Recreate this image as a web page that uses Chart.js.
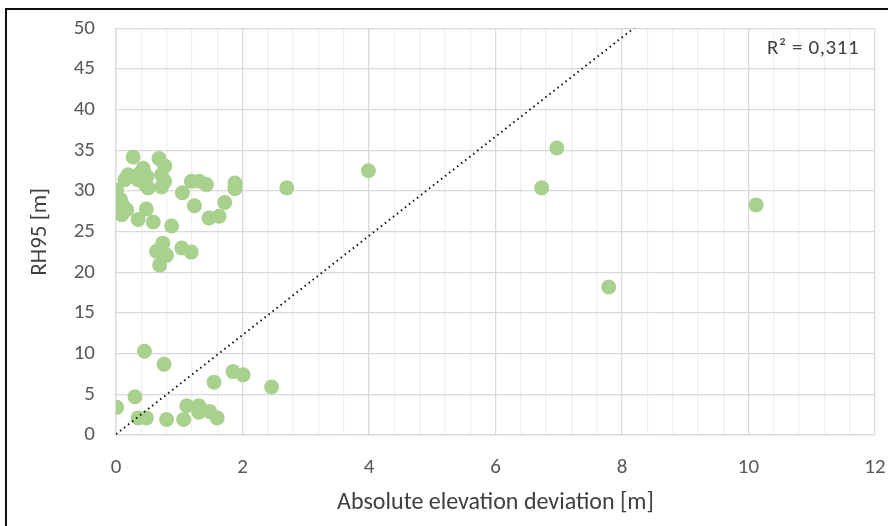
<!DOCTYPE html>
<html>
<head>
<meta charset="utf-8">
<script src="https://cdn.jsdelivr.net/npm/chart.js@4.4.0/dist/chart.umd.min.js"></script>
<style>
  html, body { margin: 0; padding: 0; background: #fff; }
  #wrap { position: relative; width: 888px; height: 526px; overflow: hidden; }
  #frame { position: absolute; left: 5px; top: 8px; width: 900px; height: 540px;
           border-left: 2px solid #111; border-top: 2px solid #111; }
  canvas { position: absolute; left: 0; top: 0; }
  #r2 { position: absolute; left: 767px; top: 34px; font: 21px Carlito, 'Open Sans', sans-serif; color: #404040; letter-spacing: 0.6px; }
</style>
</head>
<body>
<div id="wrap">
  <canvas id="c" width="888" height="526"></canvas>
  <div id="frame"></div>
  <div id="r2">R² = 0,311</div>
</div>
<script>
// Absolute elevation deviation [m]
const deviation = [
  0.01, 0.07, 0.11, 0.17, 0.09, 0.14, 0.19, 0.27, 0.35, 0.38, 0.43, 0.46, 0.49, 0.51,
  0.35, 0.48, 0.59, 0.68, 0.77, 0.72, 0.77, 0.72, 0.88, 0.74, 0.64, 0.80, 0.69, 1.04,
  1.19, 1.05, 1.19, 1.32, 1.43, 1.24, 1.47, 1.63, 1.72, 1.88, 1.88, 2.70, 3.99, 6.97,
  6.73, 10.12, 7.79,
  0.45, 0.76, 0.01, 0.30, 0.35, 0.48, 0.80, 1.07, 1.12, 1.31, 1.31, 1.48, 1.60, 1.55,
  1.85, 2.01, 2.46
];
// RH95 [m]
const rh95 = [
  30.1, 29.0, 28.2, 27.7, 27.1, 31.4, 32.0, 34.2, 31.4, 32.2, 32.8, 30.8, 31.8, 30.4,
  26.5, 27.8, 26.2, 34.0, 33.1, 32.0, 31.2, 30.5, 25.7, 23.6, 22.6, 22.1, 20.9, 23.0,
  22.5, 29.8, 31.2, 31.2, 30.8, 28.2, 26.7, 26.9, 28.6, 31.0, 30.3, 30.4, 32.5, 35.3,
  30.4, 28.3, 18.2,
  10.3, 8.7, 3.4, 4.7, 2.1, 2.1, 1.9, 1.9, 3.6, 3.6, 2.8, 2.9, 2.1, 6.5,
  7.8, 7.4, 5.9
];
// Linear trendline (y = slope * x + intercept)
const trendSlope = 6.1;
const trendIntercept = 0.1;
const trendX = [0, 10.12];

const xTickLabels = ['0', '2', '4', '6', '8', '10', '12'];
const yTickLabels = ['0', '5', '10', '15', '20', '25', '30', '35', '40', '45', '50'];

const FONT = "Carlito, 'Open Sans', sans-serif";

const points = deviation.map((x, i) => ({ x: x, y: rh95[i] }));
const trend = trendX.map(x => ({ x: x, y: trendSlope * x + trendIntercept }));

function isMajorX(v) { return Math.abs(v / 2 - Math.round(v / 2)) < 1e-6; }

new Chart(document.getElementById('c'), {
  type: 'scatter',
  data: {
    datasets: [
      {
        data: points,
        backgroundColor: '#a9d18e',
        borderColor: '#a9d18e',
        pointRadius: 7.5,
        pointHoverRadius: 7.5,
        borderWidth: 0,
        order: 2
      },
      {
        type: 'line',
        data: trend,
        borderColor: '#111',
        borderWidth: 2,
        borderDash: [1.5, 3.6],
        pointRadius: 0,
        fill: false,
        order: 1
      }
    ]
  },
  options: {
    responsive: false,
    animation: false,
    layout: { padding: { left: 0, right: 13, top: 28.5, bottom: 0 } },
    plugins: { legend: { display: false }, tooltip: { enabled: false } },
    scales: {
      x: {
        type: 'linear',
        min: 0, max: 12,
        afterBuildTicks: s => {
          const t = [];
          for (let i = 0; i <= 30; i++) t.push({ value: Math.round(i * 0.4 * 10) / 10 });
          s.ticks = t;
        },
        afterFit: s => { s.height = 91; s.paddingLeft = 0; s.paddingRight = 0; },
        grid: {
          color: ctx => isMajorX(ctx.tick.value) ? '#d9d9d9' : '#f0f0f0',
          lineWidth: 1.3,
          drawTicks: false
        },
        border: { display: true, color: '#d9d9d9', width: 1.3 },
        ticks: {
          autoSkip: false,
          maxRotation: 0,
          padding: 20,
          color: '#595959',
          font: { family: FONT, size: 21 },
          callback: v => isMajorX(v) ? xTickLabels[Math.round(v / 2)] : ''
        },
        title: {
          display: true,
          text: 'Absolute elevation deviation [m]',
          color: '#404040',
          font: { family: FONT, size: 24 },
          padding: { top: 0, bottom: 9 }
        }
      },
      y: {
        type: 'linear',
        min: 0, max: 50,
        afterFit: s => { s.width = 116; s.paddingTop = 0; s.paddingBottom = 0; },
        grid: { color: '#d9d9d9', lineWidth: 1.3, drawTicks: false },
        border: { display: true, color: '#d9d9d9', width: 1.3 },
        ticks: {
          stepSize: 5,
          padding: 21,
          color: '#595959',
          font: { family: FONT, size: 21 },
          callback: v => yTickLabels[Math.round(v / 5)]
        },
        title: {
          display: true,
          text: 'RH95 [m]',
          color: '#404040',
          font: { family: FONT, size: 23 },
          padding: { top: 26, bottom: 0 }
        }
      }
    }
  },
  plugins: [{
    id: 'bg',
    beforeDraw: ch => {
      const c = ch.ctx; c.save(); c.fillStyle = '#fff'; c.fillRect(0, 0, ch.width, ch.height); c.restore();
    }
  }]
});
</script>
</body>
</html>
